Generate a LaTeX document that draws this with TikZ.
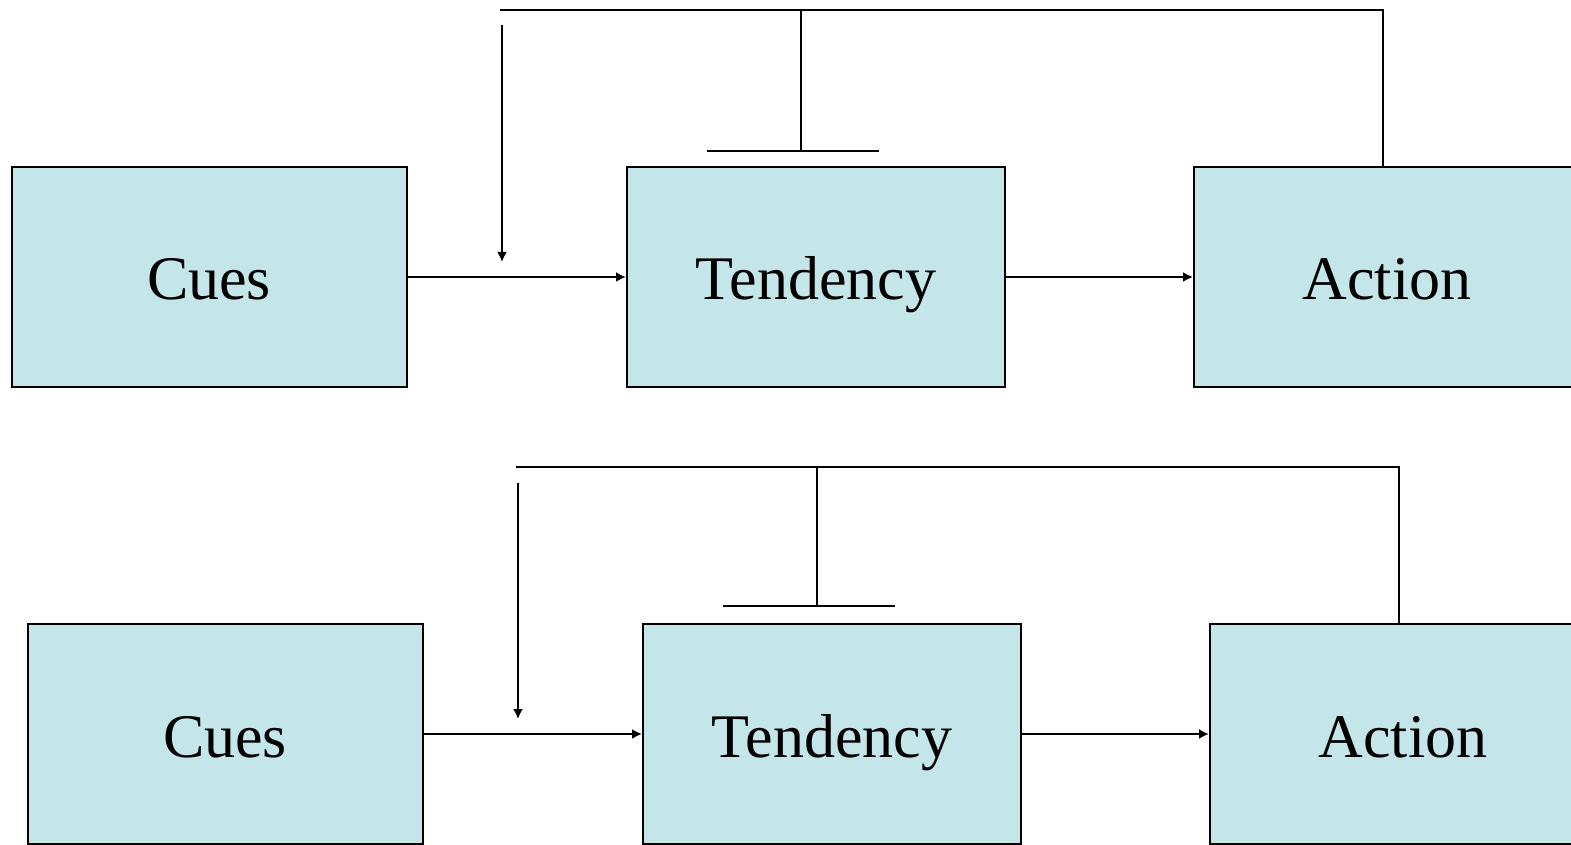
\documentclass[tikz,border=0pt]{standalone}
\usepackage{fontspec}
\setmainfont{Liberation Serif}
\usetikzlibrary{arrows.meta}
\definecolor{boxblue}{RGB}{196,230,232}
\begin{document}
\begin{tikzpicture}[x=0.5pt,y=-0.5pt,
  box/.style={draw, line width=1pt, fill=boxblue, minimum width=#1, minimum height=110pt, inner sep=0pt, text height=23pt, text depth=0pt, font=\fontsize{31}{36}\selectfont},
  ln/.style={line width=1pt},
  arr/.style={line width=1pt, -{Latex[length=5pt,width=5pt]}}]
\useasboundingbox (0,0) rectangle (1571,845);
\clip (0,0) rectangle (1571,845);
% top row
\node[box=197.5pt] (cuesA) at (209,277) {Cues};
\node[box=189pt] (tendA) at (816,277) {Tendency};
\node[box=193pt] (actA) at (1387,277) {Action};
\draw[arr] (cuesA.east) -- (tendA.west);
\draw[arr] (tendA.east) -- (actA.west);
\coordinate (cornerA) at (1383,10);
\coordinate (leftA) at (500,10);
\coordinate (stemA) at (801,10);
\coordinate (barA) at (801,151);
\coordinate (downA) at (502,25);
\coordinate (tipA) at (502,262);
\draw[ln] (actA.north -| cornerA) -- (cornerA) -- (leftA);
\draw[ln] (stemA) -- (barA);
\draw[ln] ([xshift=-47pt]barA) -- ([xshift=39pt]barA);
\draw[arr] (downA) -- (tipA);
% bottom row
\node[box=197.5pt] (cuesB) at (225,734) {Cues};
\node[box=189pt] (tendB) at (832,734) {Tendency};
\node[box=193pt] (actB) at (1403,734) {Action};
\draw[arr] (cuesB.east) -- (tendB.west);
\draw[arr] (tendB.east) -- (actB.west);
\coordinate (cornerB) at (1399,467);
\coordinate (leftB) at (516,467);
\coordinate (stemB) at (817,467);
\coordinate (barB) at (817,606);
\coordinate (downB) at (518,483);
\coordinate (tipB) at (518,719);
\draw[ln] (actB.north -| cornerB) -- (cornerB) -- (leftB);
\draw[ln] (stemB) -- (barB);
\draw[ln] ([xshift=-47pt]barB) -- ([xshift=39pt]barB);
\draw[arr] (downB) -- (tipB);
\end{tikzpicture}
\end{document}
